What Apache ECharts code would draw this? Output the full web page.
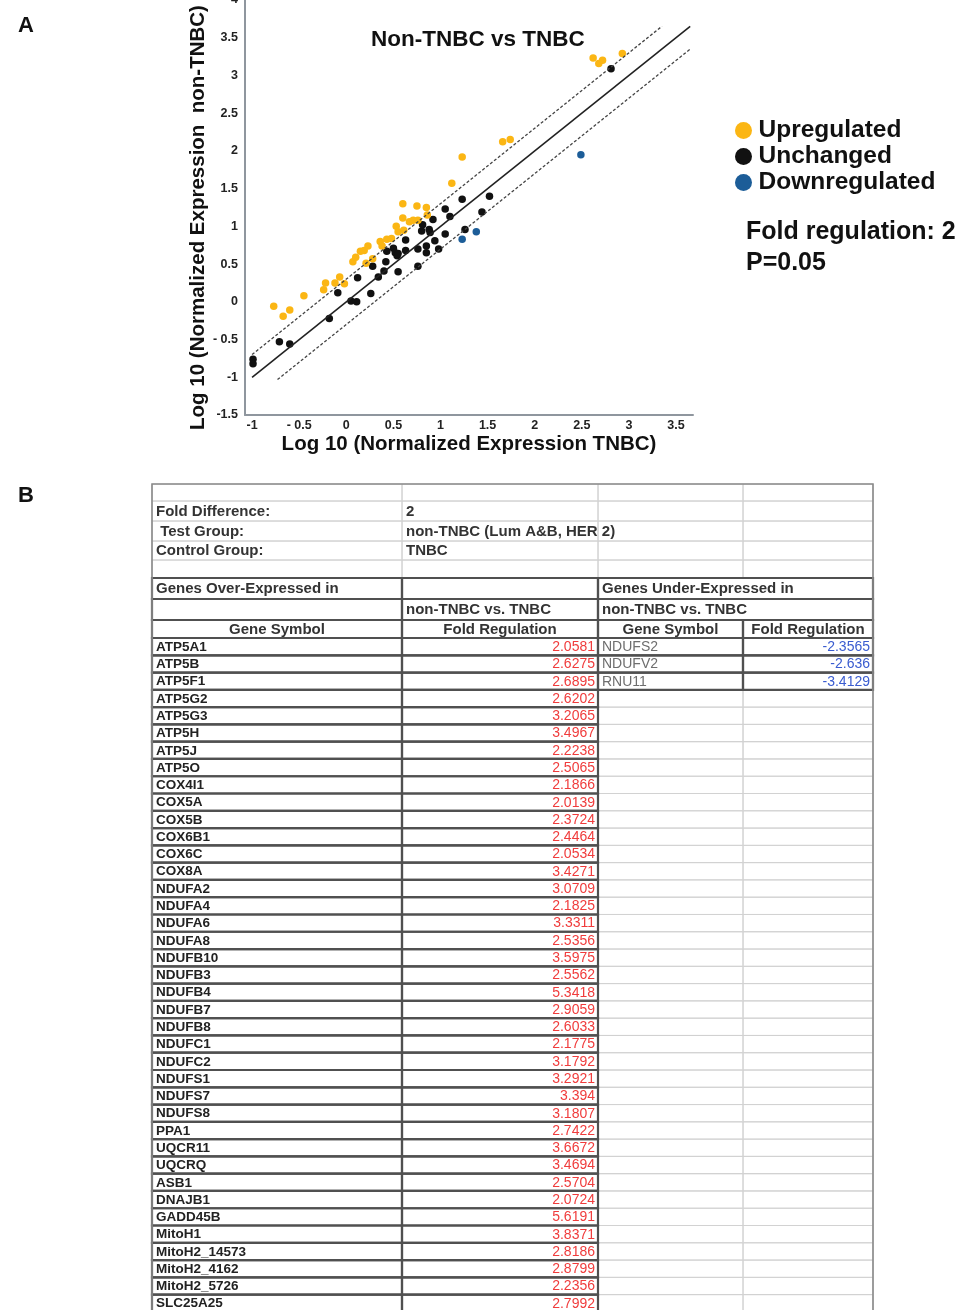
<!DOCTYPE html>
<html>
<head>
<meta charset="utf-8">
<script src="https://cdn.jsdelivr.net/npm/echarts@6/dist/echarts.min.js"></script>
<style>
html,body{margin:0;padding:0;background:#fff;}
#main{width:960px;height:1310px;}
</style>
</head>
<body>
<div id="main"></div>
<script>
// ---- panel A : scatter data (log10 normalized expression, TNBC vs non-TNBC)
var upData = [[-0.77,-0.06],[-0.67,-0.19],[-0.60,-0.11],[-0.45,0.08],[-0.24,0.16],[-0.22,0.25],[-0.12,0.25],[-0.07,0.33],
	[-0.02,0.24],[0.07,0.53],[0.10,0.59],[0.15,0.67],[0.19,0.68],[0.23,0.74],[0.21,0.51],[0.28,0.57],[0.36,0.80],[0.38,0.74],
	[0.43,0.83],[0.48,0.84],[0.53,1.00],[0.55,0.93],[0.60,1.30],[0.60,1.11],[0.61,0.95],[0.67,1.06],[0.71,1.08],[0.75,1.27],
	[0.76,1.08],[0.85,1.25],[0.86,1.15],[1.12,1.57],[1.23,1.92],[1.66,2.12],[1.74,2.15],[2.62,3.23],[2.68,3.16],[2.72,3.20],[2.93,3.29]];
var unData = [[-0.99,-0.76],[-0.99,-0.82],[-0.71,-0.53],[-0.60,-0.56],[-0.18,-0.22],[-0.09,0.12],[0.05,0.01],[0.11,0.00],
	[0.12,0.32],[0.26,0.11],[0.28,0.47],[0.34,0.33],[0.40,0.41],[0.42,0.53],[0.43,0.67],[0.50,0.71],[0.52,0.65],[0.54,0.61],
	[0.55,0.64],[0.55,0.40],[0.63,0.68],[0.63,0.82],[0.76,0.47],[0.76,0.70],[0.80,0.94],[0.81,1.02],[0.85,0.65],[0.85,0.74],
	[0.88,0.96],[0.89,0.92],[0.92,1.09],[0.94,0.81],[0.98,0.70],[1.05,1.23],[1.05,0.90],[1.10,1.13],[1.23,1.36],[1.26,0.96],
	[1.44,1.19],[1.52,1.40],[2.81,3.09]];
var downData = [[1.23,0.83],[1.38,0.93],[2.49,1.95]];
var foldShift = Math.log10(2);   // fold regulation 2
var diagEnds = [-1, 3.65];
var upperEnds = [-1, 3.35];
var lowerEnds = [-0.73, 3.65];
var xTicks = [-1,-0.5,0,0.5,1,1.5,2,2.5,3,3.5];

// ---- panel B : table
var metaLabels = ['Fold Difference:', ' Test Group:', 'Control Group:'];
var metaValues = ['2', 'non-TNBC (Lum A&B, HER 2)', 'TNBC'];
var overGenes = ['ATP5A1','ATP5B','ATP5F1','ATP5G2','ATP5G3','ATP5H','ATP5J','ATP5O','COX4I1','COX5A','COX5B','COX6B1',
	'COX6C','COX8A','NDUFA2','NDUFA4','NDUFA6','NDUFA8','NDUFB10','NDUFB3','NDUFB4','NDUFB7','NDUFB8','NDUFC1','NDUFC2',
	'NDUFS1','NDUFS7','NDUFS8','PPA1','UQCR11','UQCRQ','ASB1','DNAJB1','GADD45B','MitoH1','MitoH2_14573','MitoH2_4162',
	'MitoH2_5726','SLC25A25'];
var overFold = [2.0581,2.6275,2.6895,2.6202,3.2065,3.4967,2.2238,2.5065,2.1866,2.0139,2.3724,2.4464,2.0534,3.4271,
	3.0709,2.1825,3.3311,2.5356,3.5975,2.5562,5.3418,2.9059,2.6033,2.1775,3.1792,3.2921,3.394,3.1807,2.7422,3.6672,
	3.4694,2.5704,2.0724,5.6191,3.8371,2.8186,2.8799,2.2356,2.7992];
var underGenes = ['NDUFS2','NDUFV2','RNU11'];
var underFold = [-2.3565,-2.636,-3.4129];

var FONT = 'Liberation Sans, Arial, Helvetica, sans-serif';

// table layout (px units on the hidden table axes)
var colEdges = [0, 250, 446, 591, 721];
var headRowH = [17, 20, 20, 19, 18, 21, 21, 18];
var dataRowH = 17.28;
var rowEdges = [0];
for (var i = 0; i < headRowH.length; i++) rowEdges.push(rowEdges[i] + headRowH[i]);
for (var i = 0; i < overGenes.length; i++) rowEdges.push(rowEdges[rowEdges.length-1] + dataRowH);
var HEAD = headRowH.length;
var lastRow = HEAD + overGenes.length;

var LIGHT = {stroke:'#d2d2d2', lw:1};
var DARK = {stroke:'#505050', lw:2.2};
var cells = [], texts = [];
function cell(c0,c1,r,st){ cells.push({c0:c0,c1:c1,r0:r,r1:r+1,stroke:st.stroke,lw:st.lw}); }
function txt(c0,c1,r,s,align,color,size,weight){ texts.push({c0:c0,c1:c1,r:r,text:s,align:align,color:color,size:size,weight:weight}); }

// light cells first
for (var r = 0; r < 5; r++) for (var c = 0; c < 4; c++) cell(c,c+1,r,LIGHT);
for (var i = underGenes.length; i < overGenes.length; i++) { cell(2,3,HEAD+i,LIGHT); cell(3,4,HEAD+i,LIGHT); }
// dark cells
for (var r = 5; r < lastRow; r++) { cell(0,1,r,DARK); cell(1,2,r,DARK); }
cell(2,4,5,DARK); cell(2,4,6,DARK); cell(2,3,7,DARK); cell(3,4,7,DARK);
for (var i = 0; i < underGenes.length; i++) { cell(2,3,HEAD+i,DARK); cell(3,4,HEAD+i,DARK); }
// frame
cells.push({c0:0,c1:4,r0:0,r1:lastRow,stroke:'#8a8a8a',lw:1.6});

for (var i = 0; i < metaLabels.length; i++) {
	txt(0,1,1+i,metaLabels[i],'left','#333',15,'bold');
	txt(1,2,1+i,metaValues[i],'left','#333',15,'bold');
}
txt(0,1,5,'Genes Over-Expressed in','left','#333',15,'bold');
txt(2,4,5,'Genes Under-Expressed in','left','#333',15,'bold');
txt(1,2,6,'non-TNBC vs. TNBC','left','#333',15,'bold');
txt(2,4,6,'non-TNBC vs. TNBC','left','#333',15,'bold');
txt(0,1,7,'Gene Symbol','center','#333',15,'bold');
txt(1,2,7,'Fold Regulation','center','#333',15,'bold');
txt(2,3,7,'Gene Symbol','center','#333',15,'bold');
txt(3,4,7,'Fold Regulation','center','#333',15,'bold');
for (var i = 0; i < overGenes.length; i++) {
	txt(0,1,HEAD+i,overGenes[i],'left','#222',13.5,'bold');
	txt(1,2,HEAD+i,String(overFold[i]),'right','#f03c3c',14,'normal');
}
for (var i = 0; i < underGenes.length; i++) {
	txt(2,3,HEAD+i,underGenes[i],'left','#6e6e6e',14,'normal');
	txt(3,4,HEAD+i,String(underFold[i]),'right','#3a5cd0',14,'normal');
}

function renderCell(params, api){
	var c = cells[params.dataIndex];
	var p0 = api.coord([colEdges[c.c0], rowEdges[c.r0]]);
	var p1 = api.coord([colEdges[c.c1], rowEdges[c.r1]]);
	return {type:'rect', shape:{x:p0[0], y:p0[1], width:p1[0]-p0[0], height:p1[1]-p0[1]},
		style:{fill:'none', stroke:c.stroke, lineWidth:c.lw}};
}
function renderText(params, api){
	var t = texts[params.dataIndex];
	var p0 = api.coord([colEdges[t.c0], rowEdges[t.r]]);
	var p1 = api.coord([colEdges[t.c1], rowEdges[t.r+1]]);
	var x = t.align=='left' ? p0[0]+4 : (t.align=='right' ? p1[0]-3 : (p0[0]+p1[0])/2);
	return {type:'text', style:{text:t.text, x:x, y:(p0[1]+p1[1])/2+0.5, align:t.align, verticalAlign:'middle',
		fill:t.color, fontSize:t.size, fontWeight:t.weight, fontFamily:FONT}};
}

function lineData(ends, shift){
	return [[ends[0], ends[0]+shift], [ends[1], ends[1]+shift]];
}
function tickFmt(v){
	return v == -0.5 ? '- 0.5' : String(v);
}

var myChart = echarts.init(document.getElementById('main'));
var axisLineStyle = {color:'#8f969e', width:2};
var option = {
	animation:false,
	textStyle:{fontFamily:FONT},
	title:[
		{text:'Non-TNBC vs TNBC', left:371, top:28, padding:0, textStyle:{fontSize:22.5, fontWeight:'bold', color:'#111', fontFamily:FONT}},
		{text:'A', left:13, top:10, textStyle:{fontSize:22, fontWeight:'bold', color:'#111', fontFamily:FONT}},
		{text:'B', left:13, top:480, textStyle:{fontSize:22, fontWeight:'bold', color:'#111', fontFamily:FONT}},
		{text:'Fold regulation: 2\nP=0.05', left:746, top:217, padding:0,
			textStyle:{fontSize:25, fontWeight:'bold', color:'#111', lineHeight:31, fontFamily:FONT}}
	],
	legend:{
		data:['Upregulated','Unchanged','Downregulated'],
		orient:'vertical', left:735, top:118, padding:0,
		icon:'circle', itemWidth:20, itemHeight:17, itemGap:1,
		selectedMode:false,
		textStyle:{fontSize:24.5, fontWeight:'bold', color:'#111', fontFamily:FONT}
	},
	grid:[
		{left:245, top:0, width:448, height:415, outerBoundsMode:'none', containLabel:false},
		{left:152, top:484, width:721, height:rowEdges[rowEdges.length-1], outerBoundsMode:'none', containLabel:false}
	],
	xAxis:[
		{gridIndex:0, type:'value', min:-1.075, max:3.68,
			splitLine:{show:false}, axisTick:{show:false},
			axisLine:{onZero:false, lineStyle:axisLineStyle},
			axisLabel:{customValues:xTicks, formatter:tickFmt, color:'#222', fontWeight:'bold', fontSize:12.5, margin:4},
			name:'Log 10 (Normalized Expression TNBC)', nameLocation:'middle', nameGap:19,
			nameTextStyle:{fontSize:20.5, fontWeight:'bold', color:'#111'}},
		{gridIndex:1, type:'value', min:0, max:colEdges[colEdges.length-1], show:false}
	],
	yAxis:[
		{gridIndex:0, type:'value', min:-1.5, max:4, interval:0.5,
			splitLine:{show:false}, axisTick:{show:false},
			axisLine:{onZero:false, lineStyle:axisLineStyle},
			axisLabel:{formatter:tickFmt, color:'#222', fontWeight:'bold', fontSize:12.5, margin:7},
			name:'Log 10 (Normalized Expression  non-TNBC)', nameLocation:'middle', nameGap:33, nameRotate:90,
			nameTextStyle:{fontSize:20.5, fontWeight:'bold', color:'#111', padding:[0,20,0,0]}},
		{gridIndex:1, type:'value', min:0, max:rowEdges[rowEdges.length-1], inverse:true, show:false}
	],
	series:[
		{name:'y=x', type:'line', data:lineData(diagEnds,0), symbol:'none', silent:true,
			lineStyle:{color:'#222', width:1.6}},
		{name:'upper', type:'line', data:lineData(upperEnds,foldShift), symbol:'none', silent:true,
			lineStyle:{color:'#444', width:1.3, type:[3,2]}},
		{name:'lower', type:'line', data:lineData(lowerEnds,-foldShift), symbol:'none', silent:true,
			lineStyle:{color:'#444', width:1.3, type:[3,2]}},
		{name:'Unchanged', type:'scatter', data:unData, symbolSize:7.5, itemStyle:{color:'#111', opacity:1}},
		{name:'Upregulated', type:'scatter', data:upData, symbolSize:7.5, itemStyle:{color:'#fbb614', opacity:1}},
		{name:'Downregulated', type:'scatter', data:downData, symbolSize:7.5, itemStyle:{color:'#1c5d98', opacity:1}},
		{name:'cells', type:'custom', xAxisIndex:1, yAxisIndex:1, silent:true, renderItem:renderCell,
			data:cells.map(function(c){ return [colEdges[c.c0], rowEdges[c.r0]]; })},
		{name:'texts', type:'custom', xAxisIndex:1, yAxisIndex:1, silent:true, renderItem:renderText,
			data:texts.map(function(t){ return [colEdges[t.c0], rowEdges[t.r]]; })}
	]
};
myChart.setOption(option);
</script>
</body>
</html>
